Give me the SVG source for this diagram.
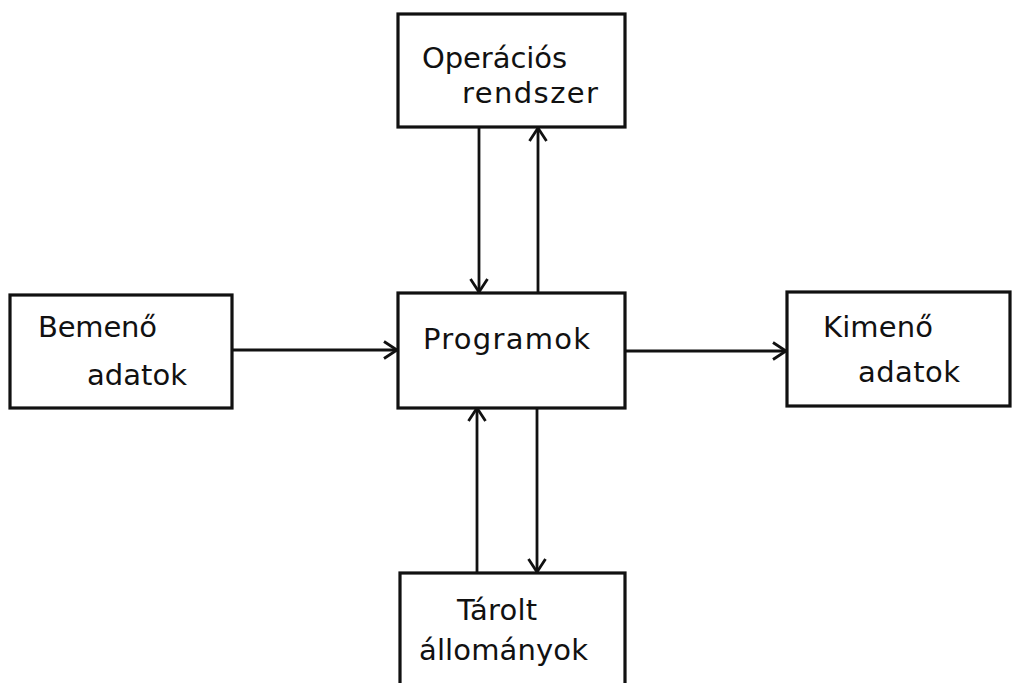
<svg xmlns="http://www.w3.org/2000/svg" width="1013" height="683" viewBox="0 0 1013 683">
<defs>
<style>
.box{fill:#fff;stroke:#111;stroke-width:3.2}
.t{font-family:"DejaVu Sans","Liberation Sans",sans-serif;font-size:29px;fill:#111}
.c{stroke:#111;stroke-width:2.8;fill:none}
</style>
<marker id="ah" viewBox="0 0 16 20" refX="15" refY="10" markerWidth="16" markerHeight="20" markerUnits="userSpaceOnUse" orient="auto">
<path d="M2,1.5 L15,10 L2,18.5" fill="none" stroke="#111" stroke-width="2.8"/>
</marker>
</defs>
<rect width="1013" height="683" fill="#fff"/>
<g id="connectors">
<line class="c" x1="232" y1="350" x2="397" y2="350" marker-end="url(#ah)"/>
<line class="c" x1="625" y1="351" x2="786" y2="351" marker-end="url(#ah)"/>
<line class="c" x1="479" y1="127" x2="479" y2="292" marker-end="url(#ah)"/>
<line class="c" x1="538" y1="293" x2="538" y2="128" marker-end="url(#ah)"/>
<line class="c" x1="477" y1="573" x2="477" y2="408" marker-end="url(#ah)"/>
<line class="c" x1="537" y1="408" x2="537" y2="572" marker-end="url(#ah)"/>
</g>
<g id="node-operacios">
<rect class="box" x="398" y="14" width="227" height="113"/>
<text class="t" x="422" y="68" textLength="145" lengthAdjust="spacing">Operációs</text>
<text class="t" x="462" y="103" textLength="136" lengthAdjust="spacing">rendszer</text>
</g>
<g id="node-bemeno">
<rect class="box" x="10" y="295" width="222" height="113"/>
<text class="t" x="38" y="337" textLength="119" lengthAdjust="spacing">Bemenő</text>
<text class="t" x="87" y="385" textLength="100" lengthAdjust="spacing">adatok</text>
</g>
<g id="node-programok">
<rect class="box" x="398" y="293" width="227" height="115"/>
<text class="t" x="423" y="349" textLength="167" lengthAdjust="spacing">Programok</text>
</g>
<g id="node-kimeno">
<rect class="box" x="787" y="292" width="223" height="114"/>
<text class="t" x="823" y="337" textLength="110" lengthAdjust="spacing">Kimenő</text>
<text class="t" x="858" y="382" textLength="102" lengthAdjust="spacing">adatok</text>
</g>
<g id="node-tarolt">
<rect class="box" x="400" y="573" width="225" height="130"/>
<text class="t" x="457" y="620" textLength="80" lengthAdjust="spacing">Tárolt</text>
<text class="t" x="419" y="660" textLength="169" lengthAdjust="spacing">állományok</text>
</g>
</svg>
